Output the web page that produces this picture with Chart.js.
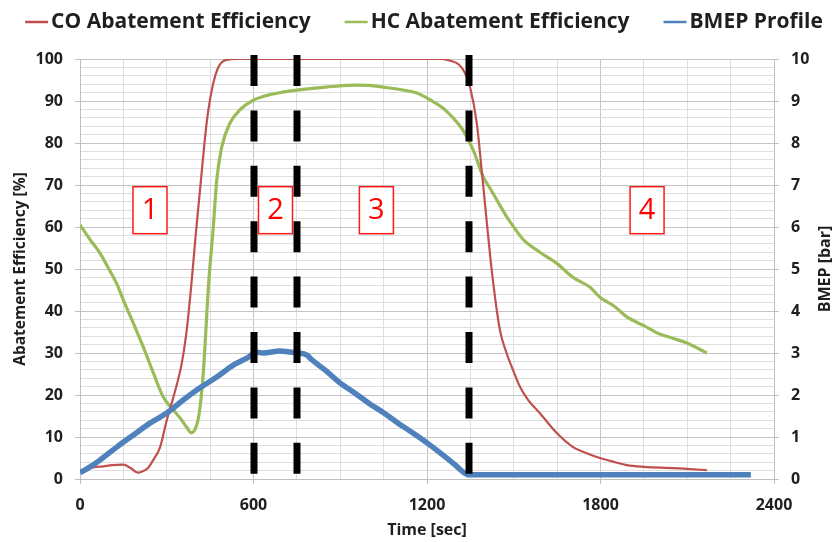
<!DOCTYPE html>
<html>
<head>
<meta charset="utf-8">
<script src="https://cdn.jsdelivr.net/npm/chart.js@4.4.1/dist/chart.umd.min.js"></script>
<style>
  html, body { margin: 0; padding: 0; background: #ffffff; }
  #wrap { width: 834px; height: 542px; }
</style>
</head>
<body>
<div id="wrap"><canvas id="chart" width="834" height="542"></canvas></div>
<script>
// Catalyst light-off test: abatement efficiencies (%) and engine load (bar) over time (s)
const coTime  = [0, 20, 50, 80, 110, 150, 175, 200, 215, 235,
                 253, 277, 300, 323, 352, 370, 386, 400, 415, 438,
                 450, 461, 475, 490, 507, 540, 800, 1100, 1250, 1280,
                 1310, 1331, 1349, 1372, 1390, 1407, 1425, 1452, 1475, 1500,
                 1521, 1550, 1590, 1648, 1705, 1750, 1798, 1850, 1891, 1950,
                 2052, 2100, 2168];
const coValue = [2.0, 2.3, 2.8, 3.0, 3.3, 3.4, 2.6, 1.5, 1.8, 2.6,
                 4.5, 7.6, 14, 19.5, 27.6, 36, 47, 58, 68.8, 84.8,
                 90.5, 94.3, 97.5, 99.2, 99.8, 100, 100, 100, 100, 99.6,
                 98.7, 96.7, 93.3, 84.8, 72.9, 61, 49, 35.5, 30, 25.5,
                 22, 18.8, 15.7, 11, 7.6, 6.2, 5, 4, 3.3, 2.9,
                 2.6, 2.4, 2.1];

const hcTime  = [0, 20, 40, 69, 100, 127, 150, 185, 219, 254,
                 288, 323, 352, 370, 385, 397, 408, 415, 425, 432,
                 444, 461, 473, 490, 519, 553, 600, 650, 700, 750,
                 850, 957, 1000, 1048, 1100, 1165, 1210, 1256, 1290, 1325,
                 1360, 1394, 1420, 1441, 1475, 1500, 1533, 1590, 1648, 1705,
                 1763, 1798, 1850, 1891, 1950, 1995, 2050, 2099, 2140, 2168];
const hcValue = [60.5, 58.5, 56.5, 53.8, 50, 46.5, 42.6, 37, 31.4, 25.2,
                 19.5, 16.4, 14, 12.2, 11, 11.7, 14, 17, 24, 31.4,
                 45.8, 60, 71.2, 79, 84.8, 87.9, 90.2, 91.4, 92.1, 92.6,
                 93.3, 93.8, 93.7, 93.3, 92.8, 91.9, 90.3, 88.3, 86.0, 83,
                 78.3, 72, 69, 66.5, 62.5, 60, 57, 54, 51.4, 48,
                 45.7, 43.3, 41, 38.6, 36.5, 34.8, 33.5, 32.4, 31, 30];

const bmepTime  = [0, 35, 69, 127, 185, 242, 300, 357, 415, 473,
                   530, 577, 611, 634, 691, 750, 785, 800, 850, 899,
                   950, 1000, 1051, 1100, 1150, 1200, 1250, 1300, 1324, 1345,
                   1400, 1600, 1800, 2000, 2200, 2320];
const bmepValue = [0.15, 0.29, 0.45, 0.76, 1.05, 1.33, 1.57, 1.88, 2.17, 2.43,
                   2.71, 2.88, 3.02, 3.0, 3.05, 3.0, 2.95, 2.85, 2.58, 2.29,
                   2.05, 1.8, 1.57, 1.33, 1.1, 0.86, 0.6, 0.32, 0.17, 0.1,
                   0.1, 0.1, 0.1, 0.1, 0.1, 0.1];

const seriesNames = ['CO Abatement Efficiency', 'HC Abatement Efficiency', 'BMEP Profile'];

// Phase boundaries (s) and phase markers
const phaseBoundaries = [600, 750, 1345];
const phaseNames = ['1', '2', '3', '4'];
const phaseTimes = [242, 676, 1025, 1961];
const phaseLevel = 64;

// Labelled ticks
const timeTickLabels = [0, 600, 1200, 1800, 2400];
const effTickLabels = [0, 10, 20, 30, 40, 50, 60, 70, 80, 90, 100];
const bmepTickLabels = [0, 1, 2, 3, 4, 5, 6, 7, 8, 9, 10];

const toPoints = (xs, ys) => xs.map((x, i) => ({ x: x, y: ys[i] }));

const FONT = '"Open Sans", Lato, sans-serif';
const TEXT = '#1f1f1f';

// Thick dashed phase separators and boxed phase numbers
const phasePlugin = {
  id: 'phases',
  afterDatasetsDraw(chart) {
    const { ctx, chartArea } = chart;
    const xs = chart.scales.x, ys = chart.scales.y;
    ctx.save();
    ctx.strokeStyle = '#000000';
    ctx.lineWidth = 7;
    ctx.setLineDash([31, 24.4]);
    phaseBoundaries.forEach(t => {
      const px = Math.round(xs.getPixelForValue(t));
      ctx.beginPath();
      ctx.moveTo(px, chartArea.top - 4);
      ctx.lineTo(px, chartArea.bottom - 3);
      ctx.stroke();
    });
    ctx.setLineDash([]);
    const bw = 34, bh = 47;
    ctx.font = '400 29px ' + FONT;
    ctx.textAlign = 'center';
    ctx.textBaseline = 'middle';
    phaseNames.forEach((name, i) => {
      const cx = xs.getPixelForValue(phaseTimes[i]);
      const cy = ys.getPixelForValue(phaseLevel);
      ctx.fillStyle = '#ffffff';
      ctx.fillRect(cx - bw / 2, cy - bh / 2, bw, bh);
      ctx.strokeStyle = '#ff1a1a';
      ctx.lineWidth = 1.5;
      ctx.strokeRect(cx - bw / 2, cy - bh / 2, bw, bh);
      ctx.fillStyle = '#ff0000';
      ctx.fillText(name, cx, cy + 1);
    });
    ctx.restore();
  },
  afterDraw(chart) {
    const { ctx, chartArea } = chart;
    ctx.save();
    // legend across the top
    ctx.font = '700 21px ' + FONT;
    ctx.textBaseline = 'middle';
    ctx.textAlign = 'left';
    const lineLen = 23, lineGap = 3, itemGap = 34;
    const items = chart.data.datasets.map(ds => ({
      label: ds.label, color: ds.borderColor, w: ctx.measureText(ds.label).width
    }));
    const total = items.reduce((s, it) => s + lineLen + lineGap + it.w, 0) + itemGap * (items.length - 1);
    let x = 424 - total / 2;
    const ly = 22;
    items.forEach(it => {
      ctx.strokeStyle = it.color;
      ctx.lineWidth = 2.5;
      ctx.beginPath();
      ctx.moveTo(x, ly);
      ctx.lineTo(x + lineLen, ly);
      ctx.stroke();
      ctx.fillStyle = TEXT;
      ctx.fillText(it.label, x + lineLen + lineGap, ly);
      x += lineLen + lineGap + it.w + itemGap;
    });
    // secondary axis title, reading bottom to top
    ctx.font = '700 16px ' + FONT;
    ctx.textAlign = 'center';
    ctx.textBaseline = 'middle';
    ctx.translate(825, (chartArea.top + chartArea.bottom) / 2);
    ctx.rotate(-Math.PI / 2);
    ctx.fillText('BMEP [bar]', 0, 0);
    ctx.restore();
  }
};

new Chart(document.getElementById('chart'), {
  type: 'line',
  data: {
    datasets: [
      {
        label: seriesNames[0],
        data: toPoints(coTime, coValue),
        borderColor: '#c0504d',
        borderWidth: 2.2,
        yAxisID: 'y',
        order: 1
      },
      {
        label: seriesNames[1],
        data: toPoints(hcTime, hcValue),
        borderColor: '#9bbb59',
        borderWidth: 3.2,
        yAxisID: 'y',
        order: 2
      },
      {
        label: seriesNames[2],
        data: toPoints(bmepTime, bmepValue),
        borderColor: '#4f81bd',
        borderWidth: 5.5,
        yAxisID: 'y2',
        order: 0
      }
    ]
  },
  options: {
    responsive: false,
    animation: false,
    devicePixelRatio: 1,
    layout: { padding: { left: 0, right: 0, top: 59, bottom: 0 } },
    elements: {
      point: { radius: 0 },
      line: { cubicInterpolationMode: 'monotone', fill: false }
    },
    plugins: {
      legend: { display: false },
      tooltip: { enabled: false }
    },
    scales: {
      x: {
        type: 'linear',
        position: 'bottom',
        min: 0,
        max: 2400,
        afterFit: s => { s.height = 63; },
        ticks: {
          stepSize: 150,
          autoSkip: false,
          maxRotation: 0,
          padding: 12,
          color: TEXT,
          font: { family: FONT, size: 16, weight: '700' },
          callback: v => timeTickLabels.includes(v) ? String(v) : ''
        },
        grid: {
          color: c => (c.tick && c.tick.value % 600 === 0) ? '#c4c4c4' : '#dedede',
          tickColor: c => (c.tick && c.tick.value % 600 === 0) ? '#bfbfbf' : 'rgba(0,0,0,0)',
          tickLength: 5
        },
        border: { color: '#bfbfbf' },
        title: {
          display: true,
          text: 'Time [sec]',
          color: TEXT,
          font: { family: FONT, size: 16, weight: '700' },
          padding: { top: 0, bottom: 2 }
        }
      },
      y: {
        position: 'left',
        min: 0,
        max: 100,
        afterFit: s => { s.width = 80; },
        ticks: {
          stepSize: 2,
          autoSkip: false,
          padding: 12,
          color: TEXT,
          font: { family: FONT, size: 16, weight: '700' },
          callback: v => effTickLabels.includes(v) ? String(v) : ''
        },
        grid: {
          color: c => (c.tick && c.tick.value % 10 === 0) ? '#c4c4c4' : '#dedede',
          tickColor: c => (c.tick && c.tick.value % 10 === 0) ? '#bfbfbf' : 'rgba(0,0,0,0)',
          tickLength: 5
        },
        border: { color: '#bfbfbf' },
        title: {
          display: true,
          text: 'Abatement Efficiency [%]',
          color: TEXT,
          font: { family: FONT, size: 15.5, weight: '700' },
          padding: { top: 11, bottom: 0 }
        }
      },
      y2: {
        position: 'right',
        min: 0,
        max: 10,
        afterFit: s => { s.width = 60; },
        ticks: {
          stepSize: 1,
          autoSkip: false,
          padding: 12,
          color: TEXT,
          font: { family: FONT, size: 16, weight: '700' },
          callback: v => bmepTickLabels.includes(v) ? String(v) : ''
        },
        grid: {
          drawOnChartArea: false,
          tickColor: '#bfbfbf',
          tickLength: 5
        },
        border: { color: '#bfbfbf' }
      }
    }
  },
  plugins: [phasePlugin]
});
</script>
</body>
</html>
